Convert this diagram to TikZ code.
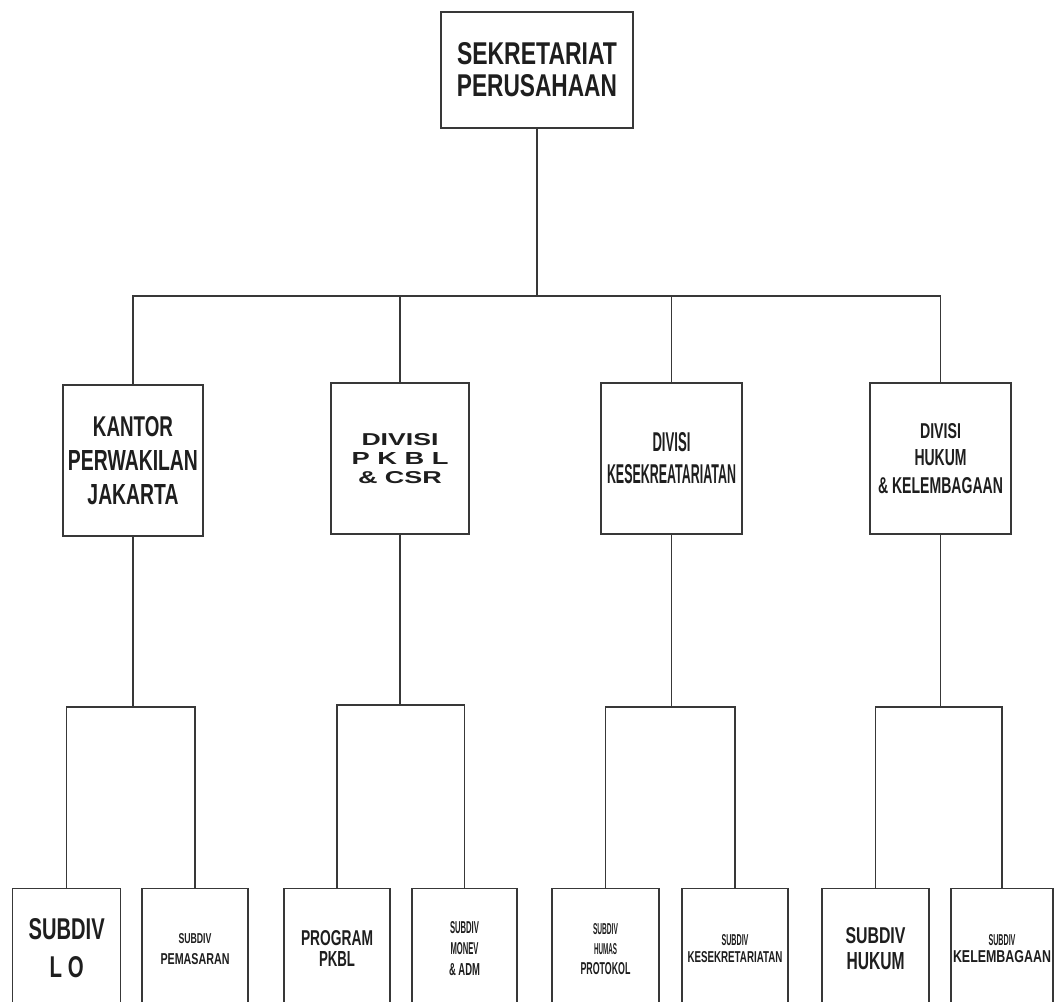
\documentclass[tikz,border=0pt]{standalone}
\usepackage{fontspec}
\setmainfont{Liberation Sans}
\usepackage{graphicx}
\newdimen\pxu \pxu=0.75pt
\newcommand{\lbl}[3]{\resizebox{#1\pxu}{#2\pxu}{\textbf{#3}}}
\definecolor{ink}{HTML}{1E1E1E}
\definecolor{edge}{HTML}{383838}
\begin{document}
\begin{tikzpicture}[x=0.75pt,y=-0.75pt,
  box/.style={draw=edge, line width=0.9pt, inner sep=0pt, align=center, text=ink, fill=white},
  dims/.style 2 args={minimum width={#1*0.75pt}, minimum height={#2*0.75pt}},
  bs/.style={font=\fontsize{10}{#1}\selectfont},
  conn/.style={draw=edge, line width=0.9pt}]
\useasboundingbox (0,0) rectangle (1054,1002);
\clip (0,0) rectangle (1054,1002);
\fill[white] (0,0) rectangle (1054,1002);

% top
\node[box, dims={192}{116}, bs=24pt] (top) at (537,70)
  {\lbl{160}{22}{SEKRETARIAT}\\\lbl{160}{22}{PERUSAHAAN}};

% divisions
\node[box, dims={140}{151}, bs=25.5pt] (kantor) at (133,460.5)
  {\lbl{80}{20}{KANTOR}\\\lbl{130}{20}{PERWAKILAN}\\\lbl{91}{20}{JAKARTA}};
\node[box, dims={138}{151}, bs=14.2pt] (pkbl) at (400,458.5)
  {\lbl{77}{12}{DIVISI}\\\lbl{97}{12}{P K B L}\\\lbl{84}{12}{\& CSR}};
\node[box, dims={141}{151}, bs=24pt] (kesek) at (671.5,458.5)
  {\lbl{38}{19}{DIVISI}\\\lbl{129}{19}{KESEKREATARIATAN}};
\node[box, dims={141}{151}, bs=20.6pt] (hukum) at (940.5,458.5)
  {\lbl{41}{15}{DIVISI}\\\lbl{52}{16}{HUKUM}\\\lbl{125}{16}{\& KELEMBAGAAN}};

% sub divisions
\node[box, anchor=north, dims={108}{120}, bs=28.5pt] (lo) at (66.7,888)
  {\lbl{76}{21}{SUBDIV}\\\lbl{34}{21}{L O}};
\node[box, anchor=north, dims={106}{120}, bs=15.75pt] (pem) at (195,888)
  {\lbl{33}{10}{SUBDIV}\\\lbl{69}{11}{PEMASARAN}};
\node[box, anchor=north, dims={106}{120}, bs=15.75pt] (prog) at (337,888)
  {\lbl{72}{15}{PROGRAM}\\\lbl{36}{15}{PKBL}};
\node[box, anchor=north, dims={105}{120}, bs=16pt] (monev) at (464.5,888)
  {\lbl{29}{12}{SUBDIV}\\\lbl{28}{12}{MONEV}\\\lbl{31}{12}{\& ADM}};
\node[box, anchor=north, dims={107}{120}, bs=15pt] (humas) at (605.5,888)
  {\lbl{25}{11}{SUBDIV}\\\lbl{23}{11}{HUMAS}\\\lbl{50}{12}{PROTOKOL}};
\node[box, anchor=north, dims={106}{120}, bs=12.75pt] (sekr) at (735,888)
  {\lbl{27}{11}{SUBDIV}\\\lbl{95}{11}{KESEKRETARIATAN}};
\node[box, anchor=north, dims={107}{120}, bs=19pt] (hkm) at (875.5,888)
  {\lbl{60}{16}{SUBDIV}\\\lbl{58}{17}{HUKUM}};
\node[box, anchor=north, dims={102}{120}, bs=13pt] (lemb) at (1002,888)
  {\lbl{27}{11}{SUBDIV}\\\lbl{98}{12}{KELEMBAGAAN}};

% connectors: top level
\coordinate (bus) at (537,296);
\draw[conn] (top.south) -- (bus);
\draw[conn] (kantor.north) |- (bus);
\draw[conn] (pkbl.north) |- (bus);
\draw[conn] (kesek.north) |- (bus);
\draw[conn] (hukum.north) |- (bus);

% connectors: second level
\coordinate (kj) at (133,707);
\coordinate (pj) at (400,705);
\coordinate (sj) at (671.5,707);
\coordinate (hj) at (940.5,707);
\draw[conn] (kantor.south) -- (kj);
\draw[conn] (lo.north) |- (kj);
\draw[conn] (pem.north) |- (kj);
\draw[conn] (pkbl.south) -- (pj);
\draw[conn] (prog.north) |- (pj);
\draw[conn] (monev.north) |- (pj);
\draw[conn] (kesek.south) -- (sj);
\draw[conn] (humas.north) |- (sj);
\draw[conn] (sekr.north) |- (sj);
\draw[conn] (hukum.south) -- (hj);
\draw[conn] (hkm.north) |- (hj);
\draw[conn] (lemb.north) |- (hj);
\end{tikzpicture}
\end{document}
